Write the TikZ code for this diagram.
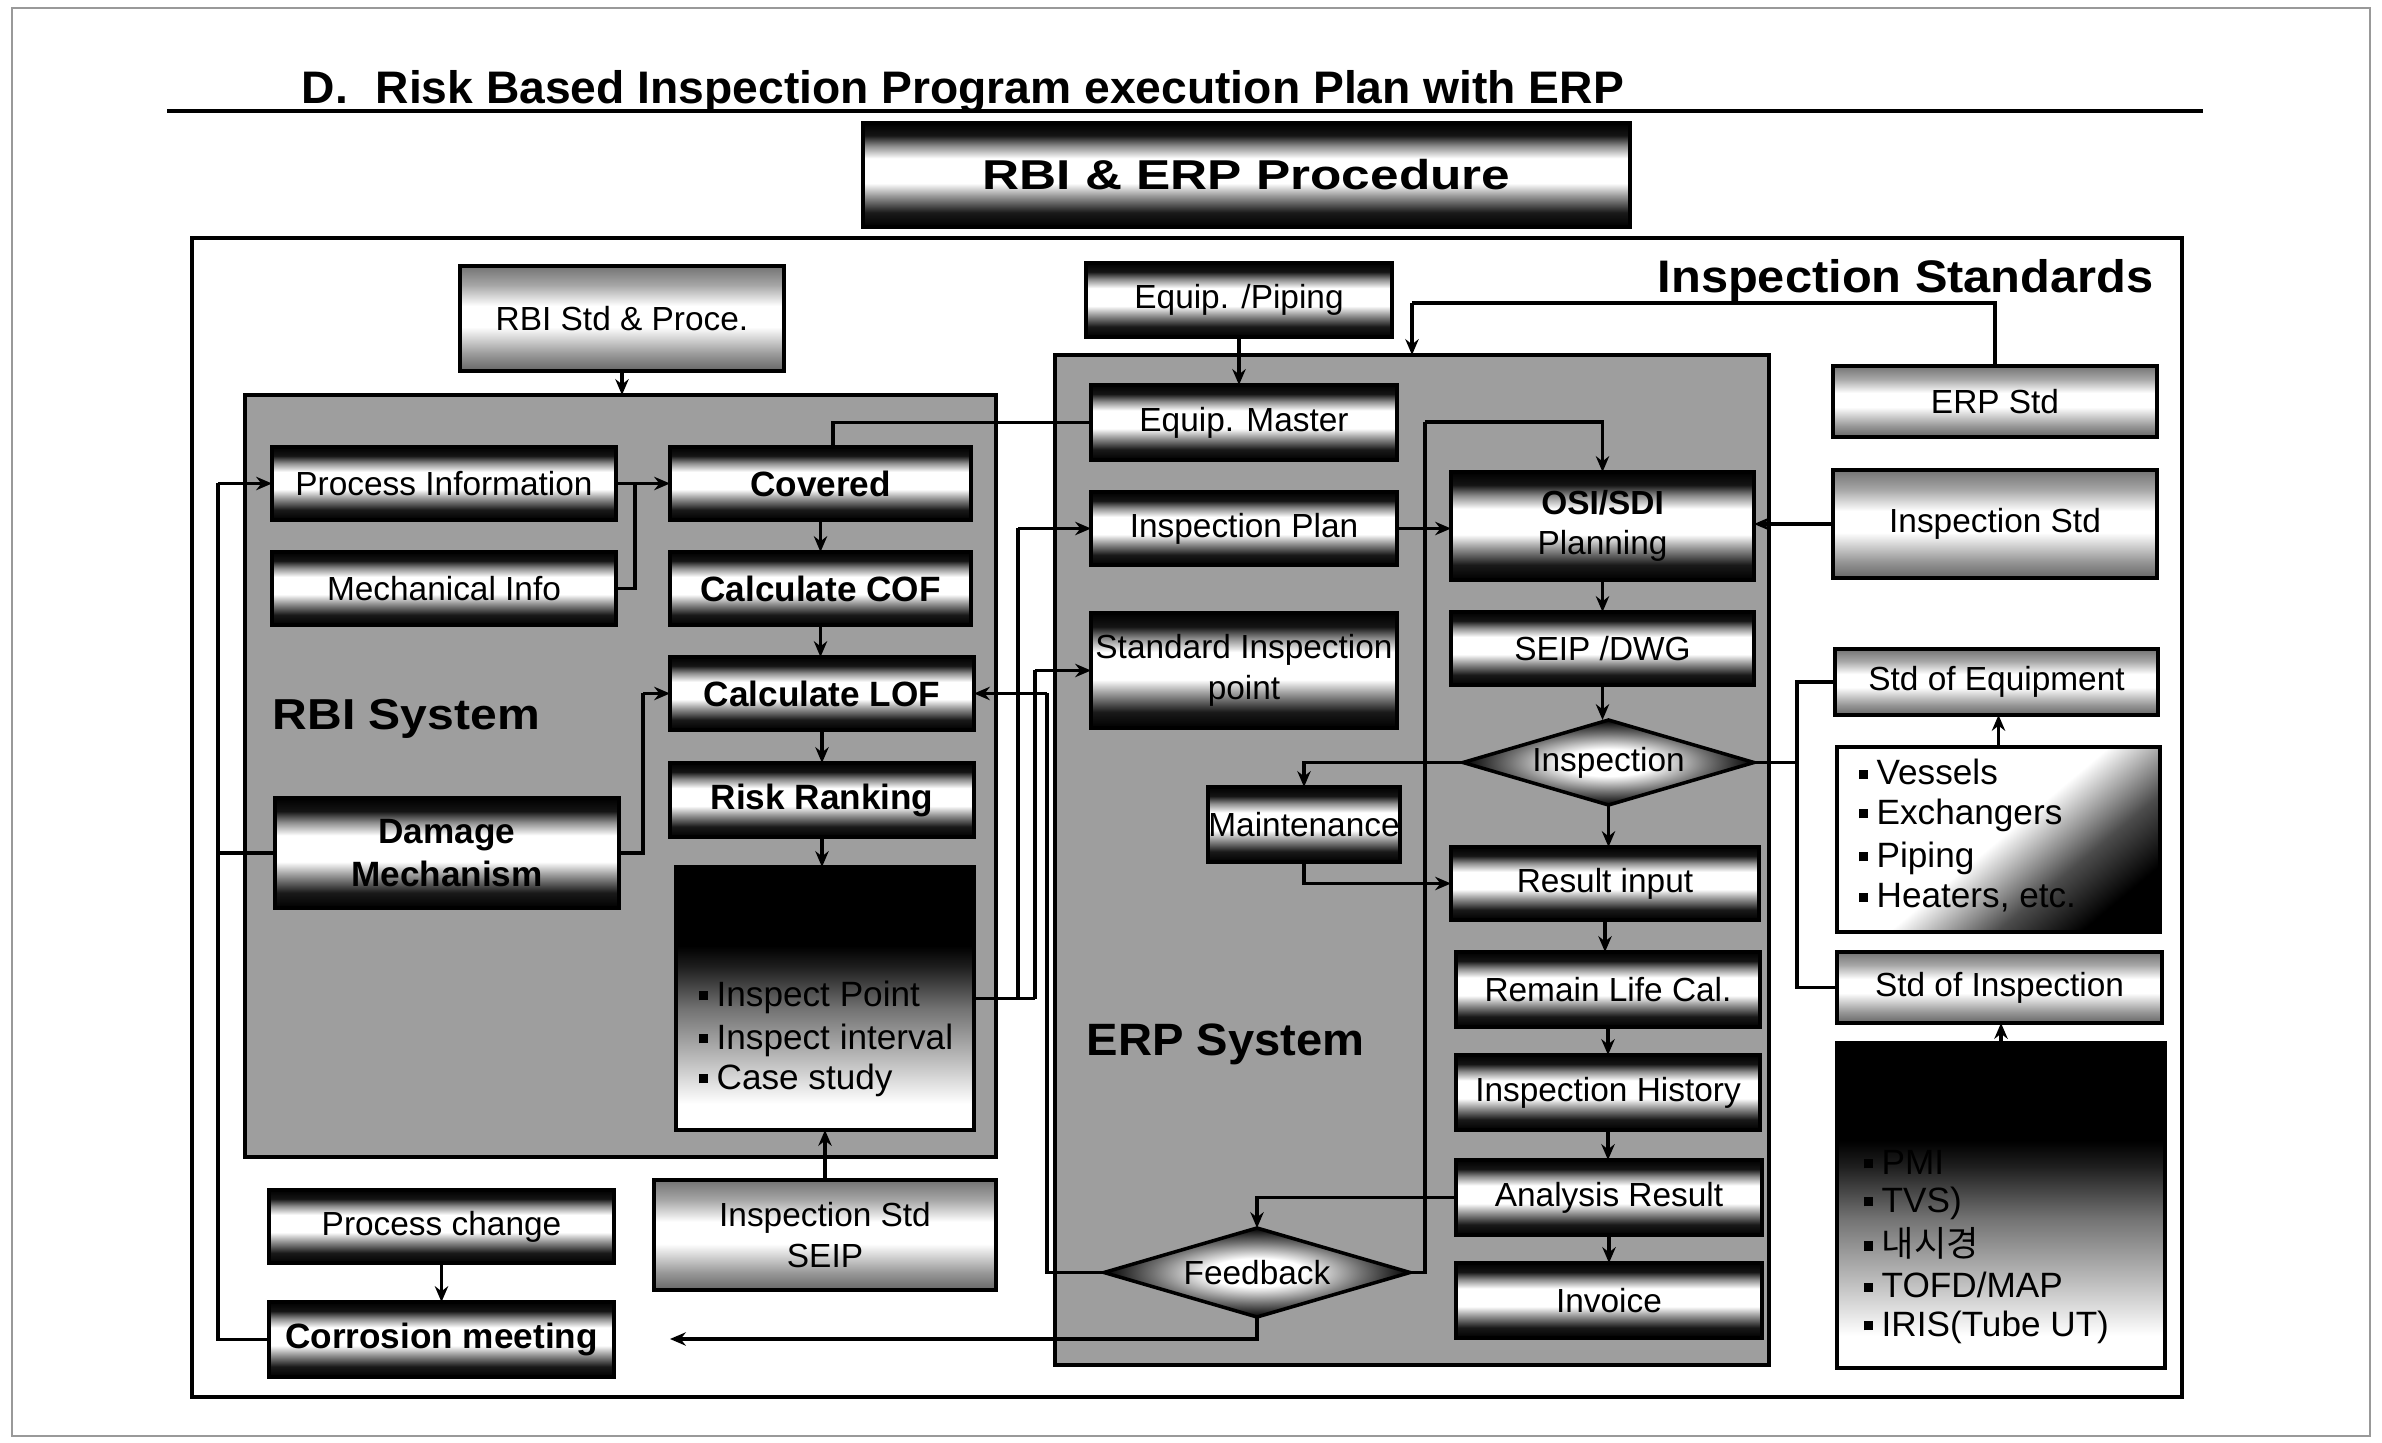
\documentclass[tikz,border=0pt]{standalone}
\usepackage{fontspec}
\setmainfont{Liberation Sans}
\newfontfamily\krfont{Noto Sans CJK KR}
\usepackage{graphicx}
\usetikzlibrary{arrows.meta,shapes.geometric}

\pgfdeclareverticalshading{darkband}{100bp}{color(0bp)=(black); color(25bp)=(black); color(32bp)=(black!90); color(40bp)=(black!40); color(46bp)=(white); color(58bp)=(white); color(64bp)=(black!45); color(69bp)=(black!92); color(75bp)=(black); color(100bp)=(black)}
\pgfdeclareverticalshading{lightband}{100bp}{color(0bp)=(black!60); color(25bp)=(black!60); color(33bp)=(black!40); color(46bp)=(white); color(56bp)=(white); color(66bp)=(black!35); color(75bp)=(black!55); color(100bp)=(black!55)}
\pgfdeclareverticalshading{topdark}{100bp}{color(0bp)=(white); color(25bp)=(white); color(30bp)=(white); color(38bp)=(black!25); color(48bp)=(black!55); color(56bp)=(black!88); color(60bp)=(black); color(75bp)=(black); color(100bp)=(black)}
\pgfdeclareverticalshading{diagband}{100bp}{color(0bp)=(black); color(25bp)=(black); color(36bp)=(black!70); color(50bp)=(white); color(75bp)=(white); color(100bp)=(white)}
\pgfdeclareradialshading{diashade}{\pgfpoint{0bp}{0bp}}{color(0bp)=(white); color(8bp)=(white); color(17bp)=(black!55); color(25bp)=(black); color(50bp)=(black)}

\newcommand\bul{\raisebox{1.6pt}{\rule{2.6pt}{2.6pt}}\hspace{2.5pt}}
\newcommand\bx[7]{\node[#6, minimum width={(#4-#2)*0.01cm}, minimum height={(#5-#3)*0.01cm}] (#1) at ({(#2+#4)/2},{(#3+#5)/2}) {#7};}

\begin{document}
\begin{tikzpicture}[x=0.01cm,y=-0.01cm,
  bxbase/.style={inner sep=0pt, outer sep=0pt, align=center, font=\fontsize{9.5}{11.5}\selectfont},
  darkbox/.style={bxbase, shade, shading=darkband, draw=black, line width=1pt},
  lightbox/.style={bxbase, shade, shading=lightband, draw=black, line width=1pt},
  topbox/.style={bxbase, shade, shading=topdark, draw=black, line width=1pt},
  diagbox/.style={bxbase, shade, shading=diagband, shading angle=40, draw=black, line width=1pt},
  diabox/.style={bxbase, diamond, aspect=3.4, shade, shading=diashade, draw=black, line width=1pt},
  bld/.style={font=\fontsize{10}{12}\selectfont\bfseries},
  panel/.style={bxbase, fill=black!38, draw=black, line width=1.4pt},
  listtxt/.style={anchor=west, inner sep=0pt, font=\fontsize{10}{12}\selectfont},
  conn/.style={line width=1pt},
  arr/.style={conn, -{Stealth[length=4.5pt,width=3.8pt]}}]

\useasboundingbox[fill=white] (0,0) rectangle (2382,1443);
\draw[black!40, line width=0.4pt] (12,8) rectangle (2370,1436);

% title
\node[anchor=base west, inner sep=0pt] (title) at (301,104) {\resizebox{376pt}{9.4pt}{\fontsize{12}{14}\selectfont\bfseries D.\hspace{0.6em}Risk Based Inspection Program execution Plan with ERP}};
\draw[line width=1.2pt] (167,111) -- (2203,111);

\bx{proc}{863}{123}{1630}{227}{darkbox}{\resizebox{150pt}{8.6pt}{\fontsize{14}{16}\selectfont\bfseries RBI \& ERP Procedure}}

% outer frame
\draw[line width=1.1pt] (192,238) rectangle (2182,1397);
\node[anchor=base west, inner sep=0pt] (instd) at (1657,293) {\resizebox{141pt}{9.4pt}{\fontsize{12}{14}\selectfont\bfseries Inspection Standards}};

% panels
\bx{rbip}{245}{395}{996}{1157}{panel}{}
\bx{erpp}{1055}{355}{1769}{1365}{panel}{}
\node[anchor=base west, inner sep=0pt] (rbilbl) at (272,730) {\resizebox{76pt}{8.6pt}{\fontsize{12}{14}\selectfont\bfseries RBI System}};
\node[anchor=base west, inner sep=0pt] (erplbl) at (1086,1055) {\resizebox{79pt}{9pt}{\fontsize{12}{14}\selectfont\bfseries ERP System}};

% RBI side
\bx{rbistd}{460}{266}{784}{371}{lightbox}{RBI Std \& Proce.}
\bx{procinfo}{272}{447}{616}{520}{darkbox}{Process Information}
\bx{mechinfo}{272}{552}{616}{625}{darkbox}{Mechanical Info}
\bx{covered}{670}{447}{971}{520}{darkbox,bld}{Covered}
\bx{cof}{670}{552}{971}{625}{darkbox,bld}{Calculate COF}
\bx{lof}{670}{657}{974}{730}{darkbox,bld}{Calculate LOF}
\bx{risk}{670}{763}{974}{837}{darkbox,bld}{Risk Ranking}
\bx{damage}{275}{798}{619}{908}{darkbox,bld}{Damage\\Mechanism}
\bx{output}{676}{867}{974}{1130}{topbox}{}
\node[listtxt] (o1) at (698,997) {\bul Inspect Point};
\node[listtxt] (o2) at (698,1040) {\bul Inspect interval};
\node[listtxt] (o3) at (698,1080) {\bul Case study};
\bx{pchange}{269}{1190}{614}{1263}{darkbox}{Process change}
\bx{corr}{269}{1302}{614}{1377}{darkbox,bld}{Corrosion meeting}
\bx{seipstd}{654}{1180}{996}{1290}{lightbox}{Inspection Std\\SEIP}

% ERP side
\bx{eqpip}{1086}{263}{1392}{337}{darkbox}{Equip. /Piping}
\bx{eqm}{1091}{385}{1397}{460}{darkbox}{Equip. Master}
\bx{inspplan}{1091}{492}{1397}{565}{darkbox}{Inspection Plan}
\bx{stdinsp}{1091}{613}{1397}{728}{darkbox}{Standard Inspection\\point}
\bx{osi}{1451}{472}{1754}{580}{darkbox}{\textbf{OSI/SDI}\\Planning}
\bx{seipdwg}{1451}{612}{1754}{685}{darkbox}{SEIP /DWG}
\bx{insp}{1463}{720}{1754}{805}{diabox}{Inspection}
\bx{maint}{1208}{787}{1400}{862}{darkbox}{Maintenance}
\bx{result}{1451}{847}{1759}{920}{darkbox}{Result input}
\bx{remain}{1456}{952}{1760}{1027}{darkbox}{Remain Life Cal.}
\bx{history}{1456}{1055}{1760}{1130}{darkbox}{Inspection History}
\bx{analysis}{1456}{1160}{1762}{1235}{darkbox}{Analysis Result}
\bx{invoice}{1456}{1263}{1762}{1338}{darkbox}{Invoice}
\bx{feedback}{1104}{1228}{1410}{1317}{diabox}{Feedback}

% standards side
\bx{erpstd}{1833}{366}{2157}{437}{lightbox}{ERP Std}
\bx{inspstd}{1833}{470}{2157}{578}{lightbox}{Inspection Std}
\bx{stdeq}{1835}{649}{2158}{715}{lightbox}{Std of Equipment}
\bx{eqlist}{1837}{747}{2160}{932}{diagbox}{}
\node[listtxt] (e1) at (1858,772) {\bul Vessels};
\node[listtxt] (e2) at (1858,815) {\bul Exchangers};
\node[listtxt] (e3) at (1858,858) {\bul Piping};
\node[listtxt] (e4) at (1858,898) {\bul Heaters, etc.};
\bx{stdinspn}{1837}{952}{2162}{1023}{lightbox}{Std of Inspection}
\bx{methods}{1837}{1043}{2165}{1368}{topbox}{}
\node[listtxt] (m1) at (1863,1162) {\bul PMI};
\node[listtxt] (m2) at (1863,1203) {\bul TVS)};
\node[listtxt] (m3) at (1863,1243) {\bul {\krfont 내시경}};
\node[listtxt] (m4) at (1863,1285) {\bul TOFD/MAP};
\node[listtxt] (m5) at (1863,1327) {\bul IRIS(Tube UT)};

% junction coordinates
\coordinate (c1) at (1412,303);
\coordinate (c2) at (833,0);
\coordinate (j1) at (635,0);
\coordinate (j2) at (643,0);
\coordinate (j3) at (218,0);
\coordinate (ja) at (1018,0);
\coordinate (jb) at (1035,0);
\coordinate (jc) at (1047,0);
\coordinate (jd) at (1797,0);
\coordinate (je) at (1425,422);
\coordinate (jf) at (670,1339);

% connectors RBI
\draw[arr] (rbistd.south) -- (rbistd.south |- rbip.north);
\draw[conn] (eqm.west) -| (c2 |- covered.north);
\draw[conn] (procinfo.east) -- (procinfo.east -| j1);
\draw[conn] (mechinfo.east) -| (j1 |- procinfo.east);
\draw[arr] (j1 |- procinfo.east) -- (covered.west);
\draw[arr] (covered.south) -- (covered.south |- cof.north);
\draw[arr] (cof.south) -- (cof.south |- lof.north);
\draw[arr] (lof.south) -- (lof.south |- risk.north);
\draw[arr] (risk.south) -- (risk.south |- output.north);
\draw[conn] (damage.east) -| (j2 |- lof.west);
\draw[arr] (j2 |- lof.west) -- (lof.west);
\draw[arr] (seipstd.north) -- (seipstd.north |- output.south);
\draw[conn] (corr.west) -| (j3 |- procinfo.west);
\draw[arr] (j3 |- procinfo.west) -- (procinfo.west);
\draw[conn] (j3 |- damage.west) -- (damage.west);
\draw[arr] (pchange.south) -- (pchange.south |- corr.north);

% between panels
\draw[conn] (output.east) -- (output.east -| jb);
\draw[conn] (output.east -| ja) -- (ja |- inspplan.west);
\draw[arr] (ja |- inspplan.west) -- (inspplan.west);
\draw[conn] (output.east -| jb) -- (jb |- stdinsp.west);
\draw[arr] (jb |- stdinsp.west) -- (stdinsp.west);
\draw[conn] (feedback.west) -| (jc |- lof.east);
\draw[arr] (jc |- lof.east) -- (lof.east);

% ERP connectors
\draw[arr] (eqpip.south) -- (eqpip.south |- eqm.north);
\draw[conn] (erpstd.north) |- (c1);
\draw[arr] (c1) -- (c1 |- erpp.north);
\draw[arr] (inspplan.east) -- (inspplan.east -| osi.west);
\draw[arr] (osi.south) -- (osi.south |- seipdwg.north);
\draw[arr] (seipdwg.south) -- (seipdwg.south |- insp.north);
\draw[arr] (insp.south) -- (insp.south |- result.north);
\draw[arr] (result.south) -- (result.south |- remain.north);
\draw[arr] (remain.south) -- (remain.south |- history.north);
\draw[arr] (history.south) -- (history.south |- analysis.north);
\draw[arr] (analysis.south) -- (analysis.south |- invoice.north);
\draw[arr] (insp.west) -| (maint.north);
\draw[arr] (maint.south) |- (result.west);
\draw[arr] (analysis.west) -| (feedback.north);
\draw[conn] (feedback.east) -| (je);
\draw[arr] (je) -| (osi.north);
\draw[arr] (feedback.south) |- (jf);

% standards connectors
\draw[conn] (insp.east) -- (insp.east -| jd);
\draw[conn] (stdeq.west) -| (jd |- stdinspn.west) -- (stdinspn.west);
\draw[arr] (inspstd.west) -- (inspstd.west -| osi.east);
\draw[arr] (eqlist.north) -- (eqlist.north |- stdeq.south);
\draw[arr] (methods.north) -- (methods.north |- stdinspn.south);
\end{tikzpicture}
\end{document}
